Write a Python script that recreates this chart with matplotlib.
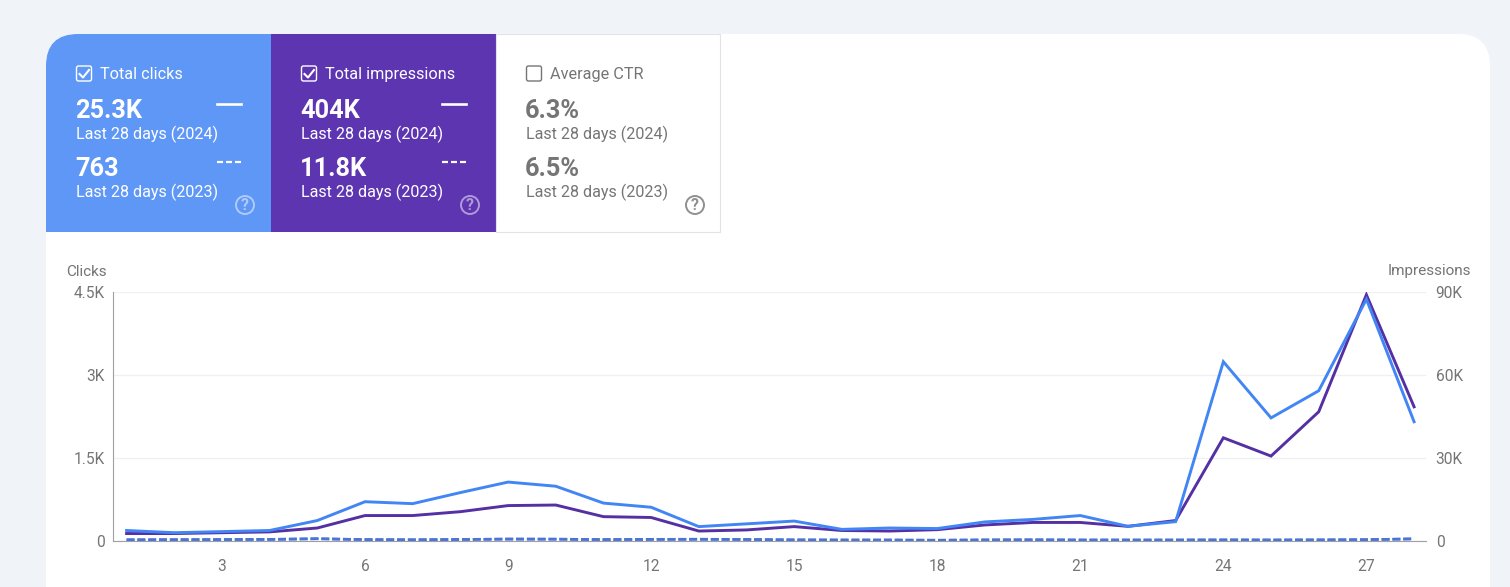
import matplotlib
matplotlib.use('Agg')
import matplotlib.pyplot as plt
from matplotlib.patches import FancyBboxPatch, Rectangle, Circle

plt.rcParams['font.family'] = ['Roboto', 'DejaVu Sans']

days = list(range(1, 29))
clicks_2024 = [190, 150, 170, 190, 370, 710, 675, 875, 1065, 990, 685, 610, 260, 310,
               360, 210, 235, 225, 345, 390, 460, 265, 350, 3240, 2225, 2715, 4370, 2155]
impressions_2024 = [2700, 2700, 3000, 3300, 4700, 9200, 9200, 10600, 12800, 13000, 8800, 8500, 3600, 4000,
                    5200, 3800, 3600, 4100, 5800, 6700, 6700, 5300, 7400, 37300, 30700, 46700, 89000, 48500]
clicks_2023 = [22, 24, 26, 30, 42, 26, 22, 28, 36, 34, 26, 30, 32, 28,
               20, 18, 18, 14, 20, 22, 18, 18, 18, 20, 18, 20, 24, 40]
impressions_2023 = [420, 460, 520, 560, 800, 500, 430, 540, 680, 660, 500, 580, 640, 540,
                    400, 360, 340, 280, 380, 420, 360, 350, 360, 390, 360, 400, 480, 760]

click_ticks = [0, 1500, 3000, 4500]
click_labels = ['0', '1.5K', '3K', '4.5K']
imp_ticks = [0, 30000, 60000, 90000]
imp_labels = ['0', '30K', '60K', '90K']
day_ticks = [3, 6, 9, 12, 15, 18, 21, 24, 27]

card_titles = ['Total clicks', 'Total impressions', 'Average CTR']
card_2024 = ['25.3K', '404K', '6.3%']
card_2023 = ['763', '11.8K', '6.5%']

W, H = 1510, 587
BLUE = '#5e97f6'
PURPLE = '#5e35b1'
LINE_BLUE = '#4285f4'
LINE_PURPLE = '#5430a4'
DASH_BLUE = '#4a74d8'
GREY = '#757575'

fig = plt.figure(figsize=(W / 100, H / 100), dpi=100, facecolor='#f0f4f9')

# pixel canvas for the page and the cards
bg = fig.add_axes([0, 0, 1, 1])
bg.set_xlim(0, W)
bg.set_ylim(H, 0)
bg.axis('off')

page = FancyBboxPatch((46, 34), 1444, 640, boxstyle='round,pad=0,rounding_size=32',
                      fc='white', ec='none')
bg.add_patch(page)

card_x = [46, 271, 496]
card_fill = [BLUE, PURPLE, 'white']
for i in range(3):
    r = Rectangle((card_x[i], 34), 225 if i < 2 else 224, 198, fc=card_fill[i],
                  ec='#e3e3e3' if i == 2 else 'none', lw=0.8)
    bg.add_patch(r)
    r.set_clip_path(page)
    fg = 'white' if i < 2 else GREY
    x0 = card_x[i] + 30

    # checkbox
    bg.add_patch(FancyBboxPatch((x0 + 0.5, 66), 15, 15, boxstyle='round,pad=0,rounding_size=2',
                                fc='none', ec=fg, lw=1.0))
    if i < 2:
        bg.plot([x0 + 3.5, x0 + 7, x0 + 13], [74, 77.5, 70], color='white', lw=1.5)

    bg.text(x0 + 24, 74.5, card_titles[i], color=fg, fontsize=11.7, va='center')
    bg.text(x0 - 1, 111, card_2024[i], color=fg, fontsize=18.3, fontweight='bold', va='center')
    bg.text(x0, 134.5, 'Last 28 days (2024)', color=fg, fontsize=11.65, va='center')
    bg.text(x0 - 1, 169, card_2023[i], color=fg, fontsize=18.3, fontweight='bold', va='center')
    bg.text(x0, 192.5, 'Last 28 days (2023)', color=fg, fontsize=11.65, va='center')

    if i < 2:
        bg.plot([x0 + 141, x0 + 165], [104, 104], color='white', lw=1.9)
        bg.plot([x0 + 141, x0 + 165], [161.5, 161.5], color='white', lw=1.6, dashes=(2.7, 1.35))

    # help icon
    hc = '#ffffff' if i < 2 else GREY
    ha_alpha = 0.5 if i < 2 else 0.8
    bg.add_patch(Circle((x0 + 169, 205), 9, fc='none', ec=hc, lw=1.4, alpha=ha_alpha))
    bg.text(x0 + 169, 205.5, '?', color=hc, fontsize=11.5, fontweight='bold', ha='center', va='center',
            alpha=ha_alpha)

# chart
left, right, top, bottom = 113, 1426, 292, 541
ax = fig.add_axes([left / W, 1 - bottom / H, (right - left) / W, (bottom - top) / H])
ax2 = ax.twinx()
ax.set_zorder(ax2.get_zorder() + 1)
ax.patch.set_alpha(0)
ax2.patch.set_alpha(0)

ax.set_xlim(0.715, 28.25)
ax.set_ylim(0, 4500)
ax2.set_ylim(0, 90000)

ax.set_yticks(click_ticks, click_labels)
ax2.set_yticks(imp_ticks, imp_labels)
ax.set_xticks(day_ticks, [str(d) for d in day_ticks])
ax2.grid(axis='y', color='#f0f0f0', lw=1)
ax2.set_axisbelow(True)

for a in (ax, ax2):
    for s in a.spines.values():
        s.set_visible(False)
    a.tick_params(axis='y', length=0, labelcolor=GREY, labelsize=11.2)
ax.spines['left'].set_visible(True)
ax.spines['left'].set_color('#a0a0a0')
ax.spines['left'].set_linewidth(0.8)
ax.spines['bottom'].set_visible(True)
ax.spines['bottom'].set_color('#a0a0a0')
ax.spines['bottom'].set_linewidth(0.8)
ax.tick_params(axis='x', length=0, labelcolor=GREY, labelsize=11.2, pad=13)
ax.tick_params(axis='y', pad=6)
ax2.tick_params(axis='y', pad=7)

ax2.plot(days, impressions_2023, color=DASH_BLUE, lw=1.9, dashes=(3, 1.1), clip_on=False)
ax2.plot(days, impressions_2024, color=LINE_PURPLE, lw=2.1, solid_joinstyle='miter')
ax.plot(days, clicks_2023, color=DASH_BLUE, lw=1.9, dashes=(3, 1.1), clip_on=False)
ax.plot(days, clicks_2024, color=LINE_BLUE, lw=2.1, solid_joinstyle='miter')

bg.text(66, 271.5, 'Clicks', color=GREY, fontsize=11, va='center')
bg.text(1471, 271.5, 'Impressions', color=GREY, fontsize=11, va='center', ha='right')

fig.savefig('out.png', dpi=100, facecolor=fig.get_facecolor())
